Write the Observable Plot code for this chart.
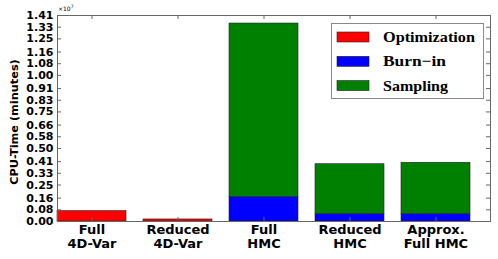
<!DOCTYPE html>
<html>
<head>
<meta charset="utf-8">
<script src="https://cdn.jsdelivr.net/npm/d3@7"></script>
<script src="https://cdn.jsdelivr.net/npm/@observablehq/plot@0.6"></script>
<style>
  html, body { margin: 0; padding: 0; background: #fff; }
  svg { display: block; }
</style>
</head>
<body>
<div id="chart"></div>
<script>
// Data (values in units of 1e7 minutes)
const categories = ["Full 4D-Var", "Reduced 4D-Var", "Full HMC", "Reduced HMC", "Approx. Full HMC"];
const categoryLabels = ["Full\n4D-Var", "Reduced\n4D-Var", "Full\nHMC", "Reduced\nHMC", "Approx.\nFull HMC"];
const seriesNames = ["Optimization", "Burn\u2212in", "Sampling"];
const seriesColors = ["#ff0000", "#0000ff", "#008000"];
const optimization = [0.071, 0.014, 0, 0, 0];
const burnIn = [0, 0, 0.168, 0.050, 0.050];
const sampling = [0, 0, 1.187, 0.342, 0.352];
const yTicks = [0.00, 0.08, 0.16, 0.25, 0.33, 0.41, 0.50, 0.58, 0.66, 0.75, 0.83, 0.91, 1.00, 1.08, 1.16, 1.25, 1.33, 1.41];
const yMax = 1.41;

const seriesValues = [optimization, burnIn, sampling];
const rows = [];
seriesNames.forEach((s, si) => {
  categories.forEach((c, ci) => {
    if (seriesValues[si][ci] > 0) rows.push({category: c, series: s, value: seriesValues[si][ci]});
  });
});

const W = 498, H = 259;
const mL = 57, mR = 8, mT = 15, mB = 38;
const plotW = W - mL - mR, plotH = H - mT - mB;
const labelOf = d => categoryLabels[categories.indexOf(d)];

const chart = Plot.plot({
  width: W,
  height: H,
  marginLeft: mL,
  marginRight: mR,
  marginTop: mT,
  marginBottom: mB,
  style: {fontFamily: "'DejaVu Sans', sans-serif", background: "#fff"},
  x: {domain: categories, paddingInner: 0.2, paddingOuter: 0.1, align: 0},
  y: {domain: [0, yMax]},
  color: {domain: seriesNames, range: seriesColors},
  marks: [
    Plot.barY(rows, {x: "category", y: "value", fill: "series", order: seriesNames, stroke: "#222", strokeWidth: 0.6}),
    Plot.frame({stroke: "#666"}),
    // inward ticks, left and right
    Plot.tickY(yTicks, {y: d => d, stroke: "#666", insetRight: plotW - 4}),
    Plot.tickY(yTicks, {y: d => d, stroke: "#666", insetLeft: plotW - 4}),
    // inward ticks, top and bottom at bar centres
    Plot.tickX(categories, {x: d => d, stroke: "#666", insetBottom: plotH - 4}),
    Plot.tickX(categories, {x: d => d, stroke: "#666", insetTop: plotH - 4}),
    Plot.axisY(yTicks, {
      anchor: "left", tickSize: 0, tickPadding: 4,
      tickFormat: d3.format(".2f"),
      fontSize: 11, fontWeight: "bold", fill: "#000",
      label: null
    }),
    Plot.axisX({
      anchor: "bottom", tickSize: 0, tickPadding: 3,
      tickFormat: labelOf, fontSize: 13, fontWeight: "bold", fill: "#000",
      lineHeight: 1.05, label: null
    })
  ]
});

document.getElementById("chart").appendChild(chart);

const svg = d3.select(chart);

// y-axis title
svg.append("text")
  .attr("transform", `translate(18,${mT + plotH / 2 + 4}) rotate(-90)`)
  .attr("text-anchor", "middle")
  .style("font-family", "'DejaVu Sans', sans-serif").style("font-weight", "bold").style("font-size", "11.3px")
  .attr("fill", "#000")
  .text("CPU-Time (minutes)");

// multiplier
const mult = svg.append("text").attr("x", mL + 1).attr("y", mT - 4).attr("text-anchor", "start")
  .style("font-size", "6px").style("font-family", "'DejaVu Sans', sans-serif").attr("fill", "#000");
mult.append("tspan").text("\u00d710");
mult.append("tspan").attr("dy", -3).style("font-size", "4.5px").text("7");

// legend
const legendTextWidths = [92, 63, 65];
const lg = svg.append("g").attr("transform", "translate(331.5,23.5)");
lg.append("rect").attr("width", 152).attr("height", 75).attr("fill", "#fff").attr("stroke", "#888").attr("stroke-width", 1);
seriesNames.forEach((s, i) => {
  const cy = 13.5 + i * 24.3;
  lg.append("rect").attr("x", 5.5).attr("y", cy - 5).attr("width", 32).attr("height", 10)
    .attr("fill", seriesColors[i]).attr("stroke", "#222").attr("stroke-width", 0.6);
  lg.append("text").attr("x", 51.5).attr("y", cy + 5).attr("text-anchor", "start")
    .attr("textLength", legendTextWidths[i]).attr("lengthAdjust", "spacingAndGlyphs")
    .text(s)
    .style("font-family", "'Liberation Serif', serif").style("font-weight", "bold").style("font-size", "15px").attr("fill", "#000");
});
</script>
</body>
</html>
